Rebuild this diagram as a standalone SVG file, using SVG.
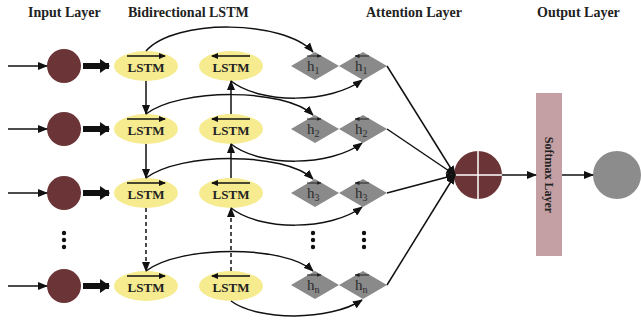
<svg xmlns="http://www.w3.org/2000/svg" width="641" height="322" viewBox="0 0 641 322">
<defs>
<marker id="ah" markerWidth="10" markerHeight="8" refX="9" refY="4" orient="auto" markerUnits="userSpaceOnUse"><path d="M0,0 L10,4 L0,8 z" fill="#111"/></marker>
<marker id="ahs" markerWidth="7" markerHeight="6" refX="6" refY="3" orient="auto" markerUnits="userSpaceOnUse"><path d="M0,0 L7,3 L0,6 z" fill="#111"/></marker>
<marker id="aht" markerWidth="5" markerHeight="4" refX="4.5" refY="2" orient="auto" markerUnits="userSpaceOnUse"><path d="M0,0 L5,2 L0,4 z" fill="#222"/></marker>
<marker id="ahb" markerWidth="10" markerHeight="14" refX="9" refY="7" orient="auto" markerUnits="userSpaceOnUse"><path d="M0,0 L10,7 L0,14 z" fill="#111"/></marker>
</defs>
<style>
.hdr{font-family:"Liberation Serif",serif;font-weight:bold;font-size:14px;fill:#222}
.inp{fill:#6b3436}
.lstm{fill:#f6eb8f}
.lt{font-family:"Liberation Serif",serif;font-weight:bold;font-size:13px;fill:#222;text-anchor:middle}
.dia{fill:#8a8a8a}
.ht{font-family:"Liberation Serif",serif;font-size:15px;fill:#2a2a2a}
.sub{font-size:10px}
.ov{stroke:#111;stroke-width:1.6;fill:none}
.hov{stroke:#222;stroke-width:1;fill:none}
.c{stroke:#111;stroke-width:1.5;fill:none}
.dash{stroke-dasharray:4,3}
.dot{fill:#111}
</style>
<g id="headers">
<text class="hdr" x="28" y="17">Input Layer</text>
<text class="hdr" x="128" y="17">Bidirectional LSTM</text>
<text class="hdr" x="366" y="17">Attention Layer</text>
<text class="hdr" x="537" y="17">Output Layer</text>
</g>
<g id="input1"><circle class="inp" cx="64" cy="66" r="17"/></g>
<g id="input2"><circle class="inp" cx="64" cy="129" r="17"/></g>
<g id="input3"><circle class="inp" cx="64" cy="193" r="17"/></g>
<g id="inputn"><circle class="inp" cx="64" cy="286" r="17"/></g>
<g id="inputdots"><circle class="dot" cx="64" cy="233" r="2.2"/><circle class="dot" cx="64" cy="240" r="2.2"/><circle class="dot" cx="64" cy="247" r="2.2"/></g>
<g id="fwd1"><ellipse class="lstm" cx="146" cy="66" rx="32" ry="15"/><line class="ov" x1="127" y1="56" x2="165" y2="56" marker-end="url(#ahs)"/><text class="lt" x="146" y="72">LSTM</text></g>
<g id="fwd2"><ellipse class="lstm" cx="146" cy="129" rx="32" ry="15"/><line class="ov" x1="127" y1="119" x2="165" y2="119" marker-end="url(#ahs)"/><text class="lt" x="146" y="135">LSTM</text></g>
<g id="fwd3"><ellipse class="lstm" cx="146" cy="193" rx="32" ry="15"/><line class="ov" x1="127" y1="183" x2="165" y2="183" marker-end="url(#ahs)"/><text class="lt" x="146" y="199">LSTM</text></g>
<g id="fwdn"><ellipse class="lstm" cx="146" cy="286" rx="32" ry="15"/><line class="ov" x1="127" y1="276" x2="165" y2="276" marker-end="url(#ahs)"/><text class="lt" x="146" y="292">LSTM</text></g>
<g id="bwd1"><ellipse class="lstm" cx="231" cy="66" rx="32" ry="15"/><line class="ov" x1="250" y1="56" x2="212" y2="56" marker-end="url(#ahs)"/><text class="lt" x="231" y="72">LSTM</text></g>
<g id="bwd2"><ellipse class="lstm" cx="231" cy="129" rx="32" ry="15"/><line class="ov" x1="250" y1="119" x2="212" y2="119" marker-end="url(#ahs)"/><text class="lt" x="231" y="135">LSTM</text></g>
<g id="bwd3"><ellipse class="lstm" cx="231" cy="193" rx="32" ry="15"/><line class="ov" x1="250" y1="183" x2="212" y2="183" marker-end="url(#ahs)"/><text class="lt" x="231" y="199">LSTM</text></g>
<g id="bwdn"><ellipse class="lstm" cx="231" cy="286" rx="32" ry="15"/><line class="ov" x1="250" y1="276" x2="212" y2="276" marker-end="url(#ahs)"/><text class="lt" x="231" y="292">LSTM</text></g>
<g id="hf1"><polygon class="dia" points="291,66 315,52 339,66 315,80"/><line class="hov" x1="307" y1="56" x2="321" y2="56" marker-end="url(#aht)"/><text class="ht" x="307" y="71">h<tspan class="sub" dy="3">1</tspan></text></g>
<g id="hb1"><polygon class="dia" points="339,66 363,52 387,66 363,80"/><line class="hov" x1="369" y1="56" x2="355" y2="56" marker-end="url(#aht)"/><text class="ht" x="355" y="71">h<tspan class="sub" dy="3">1</tspan></text></g>
<g id="hf2"><polygon class="dia" points="291,129 315,115 339,129 315,143"/><line class="hov" x1="307" y1="119" x2="321" y2="119" marker-end="url(#aht)"/><text class="ht" x="307" y="134">h<tspan class="sub" dy="3">2</tspan></text></g>
<g id="hb2"><polygon class="dia" points="339,129 363,115 387,129 363,143"/><line class="hov" x1="369" y1="119" x2="355" y2="119" marker-end="url(#aht)"/><text class="ht" x="355" y="134">h<tspan class="sub" dy="3">2</tspan></text></g>
<g id="hf3"><polygon class="dia" points="291,193 315,179 339,193 315,207"/><line class="hov" x1="307" y1="183" x2="321" y2="183" marker-end="url(#aht)"/><text class="ht" x="307" y="198">h<tspan class="sub" dy="3">3</tspan></text></g>
<g id="hb3"><polygon class="dia" points="339,193 363,179 387,193 363,207"/><line class="hov" x1="369" y1="183" x2="355" y2="183" marker-end="url(#aht)"/><text class="ht" x="355" y="198">h<tspan class="sub" dy="3">3</tspan></text></g>
<g id="hfn"><polygon class="dia" points="291,285 315,271 339,285 315,299"/><line class="hov" x1="307" y1="275" x2="321" y2="275" marker-end="url(#aht)"/><text class="ht" x="307" y="290">h<tspan class="sub" dy="3">n</tspan></text></g>
<g id="hbn"><polygon class="dia" points="339,285 363,271 387,285 363,299"/><line class="hov" x1="369" y1="275" x2="355" y2="275" marker-end="url(#aht)"/><text class="ht" x="355" y="290">h<tspan class="sub" dy="3">n</tspan></text></g>
<g id="hdots"><circle class="dot" cx="313" cy="233" r="2.2"/><circle class="dot" cx="313" cy="240" r="2.2"/><circle class="dot" cx="313" cy="247" r="2.2"/><circle class="dot" cx="364" cy="233" r="2.2"/><circle class="dot" cx="364" cy="240" r="2.2"/><circle class="dot" cx="364" cy="247" r="2.2"/></g>
<g id="combine"><circle cx="478" cy="175" r="24" fill="#6b3436"/><line x1="454" y1="175" x2="502" y2="175" stroke="#fff" stroke-width="1.5"/><line x1="478" y1="151" x2="478" y2="199" stroke="#fff" stroke-width="1.5"/></g>
<g id="softmax"><rect x="536" y="93" width="26" height="163" fill="#c4a0a4"/><text transform="translate(545,175) rotate(90)" font-family="Liberation Serif, serif" font-weight="bold" font-size="12" fill="#222" text-anchor="middle">Softmax Layer</text></g>
<g id="output"><circle cx="617" cy="175" r="24" fill="#8c8c8c"/></g>
<g id="connectors">
<line class="c" x1="8" y1="66" x2="47" y2="66" marker-end="url(#ah)"/>
<line class="c" x1="8" y1="129" x2="47" y2="129" marker-end="url(#ah)"/>
<line class="c" x1="8" y1="193" x2="47" y2="193" marker-end="url(#ah)"/>
<line class="c" x1="8" y1="286" x2="47" y2="286" marker-end="url(#ah)"/>
<line stroke="#111" stroke-width="6" x1="83" y1="66" x2="109" y2="66" marker-end="url(#ahb)"/>
<line stroke="#111" stroke-width="6" x1="83" y1="129" x2="109" y2="129" marker-end="url(#ahb)"/>
<line stroke="#111" stroke-width="6" x1="83" y1="193" x2="109" y2="193" marker-end="url(#ahb)"/>
<line stroke="#111" stroke-width="6" x1="83" y1="286" x2="109" y2="286" marker-end="url(#ahb)"/>
<line class="c" x1="146" y1="81" x2="146" y2="114" marker-end="url(#ah)"/>
<line class="c" x1="146" y1="144" x2="146" y2="178" marker-end="url(#ah)"/>
<line class="c dash" x1="146" y1="208" x2="146" y2="271" marker-end="url(#ah)"/>
<line class="c" x1="231" y1="114" x2="231" y2="81" marker-end="url(#ah)"/>
<line class="c" x1="231" y1="178" x2="231" y2="144" marker-end="url(#ah)"/>
<line class="c dash" x1="231" y1="271" x2="231" y2="208" marker-end="url(#ah)"/>
<path class="c" d="M146,51 C175,18 285,20 313,52" marker-end="url(#ah)"/>
<path class="c" d="M146,114 C180,88 285,88 313,115" marker-end="url(#ah)"/>
<path class="c" d="M146,178 C180,152 285,152 313,179" marker-end="url(#ah)"/>
<path class="c" d="M146,271 C180,245 285,245 313,271" marker-end="url(#ah)"/>
<path class="c" d="M231,81 C260,104 330,104 362,80" marker-end="url(#ah)"/>
<path class="c" d="M231,144 C260,167 330,167 362,143" marker-end="url(#ah)"/>
<path class="c" d="M231,208 C260,231 330,231 362,207" marker-end="url(#ah)"/>
<path class="c" d="M231,301 C258,321 330,321 362,300" marker-end="url(#ah)"/>
<line class="c" x1="387" y1="66" x2="455" y2="175" marker-end="url(#ah)"/>
<line class="c" x1="387" y1="129" x2="455" y2="175" marker-end="url(#ah)"/>
<line class="c" x1="387" y1="193" x2="455" y2="175" marker-end="url(#ah)"/>
<line class="c" x1="387" y1="285" x2="455" y2="175" marker-end="url(#ah)"/>
<line class="c" x1="502" y1="175" x2="536" y2="175" marker-end="url(#ah)"/>
<line class="c" x1="562" y1="175" x2="593" y2="175" marker-end="url(#ah)"/>
</g>
</svg>
